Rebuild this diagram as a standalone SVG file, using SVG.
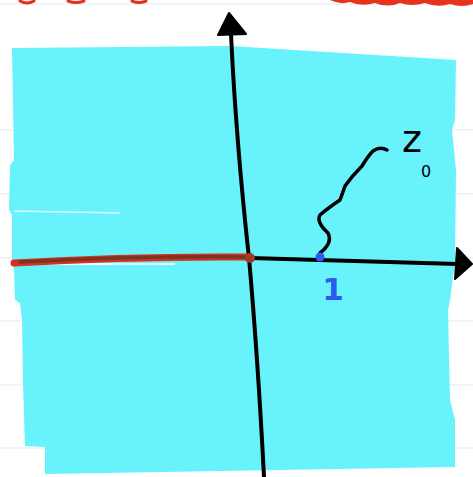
<svg xmlns="http://www.w3.org/2000/svg" width="473" height="477" viewBox="0 0 473 477">
<style>
.rule{stroke:#dde9f0;stroke-width:1;fill:none}
.ink{stroke:#000;stroke-linecap:round;stroke-linejoin:round;fill:none}
.head{fill:#000;stroke:#000;stroke-width:2;stroke-linejoin:round}
</style>
<rect x="0" y="0" width="473" height="477" fill="#ffffff"/>
<g id="rules">
<line class="rule" x1="0" y1="4" x2="473" y2="4"/>
<line class="rule" x1="0" y1="130" x2="473" y2="130"/>
<line class="rule" x1="0" y1="194" x2="473" y2="194"/>
<line class="rule" x1="0" y1="258" x2="473" y2="258"/>
<line class="rule" x1="0" y1="321" x2="473" y2="321"/>
<line class="rule" x1="0" y1="385" x2="473" y2="385"/>
<line class="rule" x1="0" y1="448" x2="473" y2="448"/>
</g>
<g id="red-top">
<path d="M20,1 Q27,5 34,1 M68,1 Q76,4 84,1 M132,1 Q139,4 146,1" stroke="#e8321e" stroke-width="3" fill="none" stroke-linecap="round"/>
<path d="M330,0 Q340,5 350,2 Q362,7 375,3 Q388,8 400,3 Q412,7 425,3 Q438,8 450,4 Q462,8 473,4 L473,0 Z" fill="#e8321e"/>
</g>
<g id="region">
<path d="M12,48 L230,46 L456,60 L455,120 L452,130 L456,170 L455,262 L450,300 L448,310 L450,400 L455,420 L455,467 L45,474 L45,447 L25,446 L23,385 L22,320 L20,303 L15,300 L14,270 L12,262 L12,215 L9,210 L10,165 L14,160 Z" fill="#68f2fc"/>
<path d="M14,211 L120,213" stroke="#ffffff" stroke-width="1.5" opacity="0.8"/>
<path d="M18,264 L175,264" stroke="#ffffff" stroke-width="2" opacity="0.9"/>
</g>
<g id="connectors">
<path class="ink" d="M231,34 Q236,140 249,258 Q258,360 264,477" stroke-width="4"/>
<path class="head" d="M229,13 L218,35 L246,34 Z"/>
<path class="ink" d="M250,258 L458,264" stroke-width="4"/>
<path class="head" d="M472,264 L457,248 L455,279 Z"/>
</g>
<g id="negative-axis">
<path d="M14,263 Q130,256 250,257" stroke="#d8301c" stroke-width="7" fill="none" stroke-linecap="round"/>
<path d="M20,262 Q130,256 248,257" stroke="#7a3522" stroke-width="3.5" fill="none" stroke-linecap="round"/>
<circle cx="250" cy="258" r="5" fill="#a03a22"/>
</g>
<g id="path-z0">
<path class="ink" stroke-width="3.5" d="M320,253 Q333,243 328,233 Q316,222 320,215 Q328,208 340,200 Q343,192 345,186 Q352,176 362,166 Q368,156 373,151 Q380,146 387,150"/>
</g>
<g id="point-1">
<circle cx="320" cy="257" r="4.5" fill="#2a5cf0"/>
<text x="333" y="300" font-family="DejaVu Sans, sans-serif" font-size="31" font-weight="bold" fill="#2a5cf0" text-anchor="middle">1</text>
</g>
<g id="label-z0">
<text x="402" y="152" font-family="DejaVu Sans, sans-serif" font-size="38" fill="#000">z</text>
<text x="421" y="177" font-family="DejaVu Sans, sans-serif" font-size="16" fill="#000">0</text>
</g>
</svg>
